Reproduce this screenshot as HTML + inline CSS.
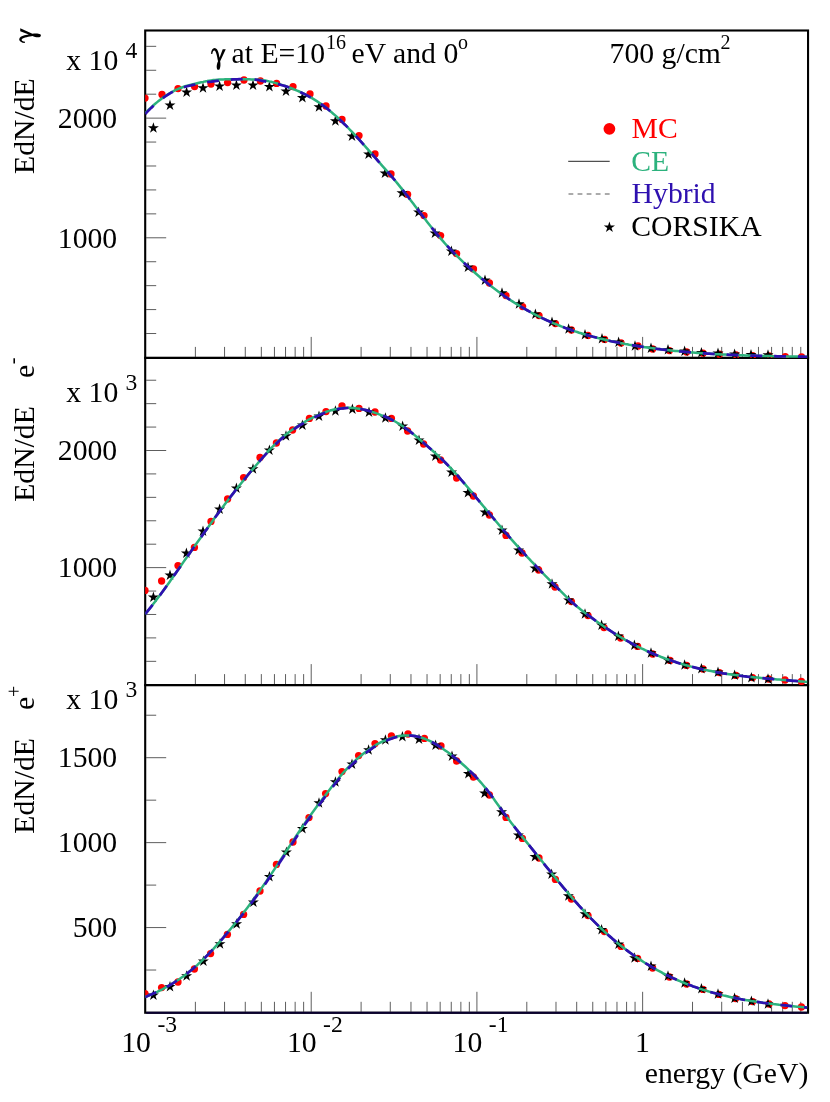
<!DOCTYPE html>
<html><head><meta charset="utf-8"><title>spectra</title>
<style>html,body{margin:0;padding:0;background:#fff}svg{display:block}</style></head><body>
<svg style="will-change:transform" width="830" height="1102" viewBox="0 0 830 1102">
<rect width="830" height="1102" fill="#fff"/>
<defs>
<clipPath id="c0"><rect x="145.2" y="30.5" width="662.8" height="327.4"/></clipPath>
<clipPath id="c1"><rect x="145.2" y="357.9" width="662.8" height="327.2"/></clipPath>
<clipPath id="c2"><rect x="145.2" y="685.1" width="662.8" height="327.6"/></clipPath>
</defs>
<rect x="145.20" y="30.50" width="662.85" height="327.40" fill="none" stroke="#000" stroke-width="2.1"/>
<rect x="145.20" y="357.90" width="662.85" height="327.20" fill="none" stroke="#000" stroke-width="2.1"/>
<rect x="145.20" y="685.10" width="662.85" height="327.65" fill="none" stroke="#000" stroke-width="2.1"/>
<line x1="146.20" x2="807.05" y1="1012.75" y2="1012.75" stroke="#0a0030" stroke-width="2.1"/>
<g stroke="#000" stroke-width="0.75" stroke-opacity="0.85"><line x1="146.2" x2="156.2" y1="333.52" y2="333.52"/><line x1="146.2" x2="156.2" y1="309.59" y2="309.59"/><line x1="146.2" x2="156.2" y1="285.65" y2="285.65"/><line x1="146.2" x2="156.2" y1="261.72" y2="261.72"/><line x1="146.2" x2="166.2" y1="237.79" y2="237.79"/><line x1="146.2" x2="156.2" y1="213.86" y2="213.86"/><line x1="146.2" x2="156.2" y1="189.93" y2="189.93"/><line x1="146.2" x2="156.2" y1="165.99" y2="165.99"/><line x1="146.2" x2="156.2" y1="142.06" y2="142.06"/><line x1="146.2" x2="166.2" y1="118.13" y2="118.13"/><line x1="146.2" x2="156.2" y1="94.20" y2="94.20"/><line x1="146.2" x2="156.2" y1="70.27" y2="70.27"/><line x1="146.2" x2="156.2" y1="46.33" y2="46.33"/><line x1="195.38" x2="195.38" y1="356.9" y2="346.9"/><line x1="224.56" x2="224.56" y1="356.9" y2="346.9"/><line x1="245.27" x2="245.27" y1="356.9" y2="346.9"/><line x1="261.33" x2="261.33" y1="356.9" y2="346.9"/><line x1="274.45" x2="274.45" y1="356.9" y2="346.9"/><line x1="285.54" x2="285.54" y1="356.9" y2="346.9"/><line x1="295.15" x2="295.15" y1="356.9" y2="346.9"/><line x1="303.63" x2="303.63" y1="356.9" y2="346.9"/><line x1="311.21" x2="311.21" y1="356.9" y2="336.9"/><line x1="361.10" x2="361.10" y1="356.9" y2="346.9"/><line x1="390.28" x2="390.28" y1="356.9" y2="346.9"/><line x1="410.98" x2="410.98" y1="356.9" y2="346.9"/><line x1="427.04" x2="427.04" y1="356.9" y2="346.9"/><line x1="440.16" x2="440.16" y1="356.9" y2="346.9"/><line x1="451.26" x2="451.26" y1="356.9" y2="346.9"/><line x1="460.87" x2="460.87" y1="356.9" y2="346.9"/><line x1="469.34" x2="469.34" y1="356.9" y2="346.9"/><line x1="476.92" x2="476.92" y1="356.9" y2="336.9"/><line x1="526.81" x2="526.81" y1="356.9" y2="346.9"/><line x1="555.99" x2="555.99" y1="356.9" y2="346.9"/><line x1="576.69" x2="576.69" y1="356.9" y2="346.9"/><line x1="592.75" x2="592.75" y1="356.9" y2="346.9"/><line x1="605.87" x2="605.87" y1="356.9" y2="346.9"/><line x1="616.97" x2="616.97" y1="356.9" y2="346.9"/><line x1="626.58" x2="626.58" y1="356.9" y2="346.9"/><line x1="635.05" x2="635.05" y1="356.9" y2="346.9"/><line x1="642.64" x2="642.64" y1="356.9" y2="336.9"/><line x1="692.52" x2="692.52" y1="356.9" y2="346.9"/><line x1="721.70" x2="721.70" y1="356.9" y2="346.9"/><line x1="742.41" x2="742.41" y1="356.9" y2="346.9"/><line x1="758.47" x2="758.47" y1="356.9" y2="346.9"/><line x1="771.59" x2="771.59" y1="356.9" y2="346.9"/><line x1="782.68" x2="782.68" y1="356.9" y2="346.9"/><line x1="792.29" x2="792.29" y1="356.9" y2="346.9"/><line x1="800.77" x2="800.77" y1="356.9" y2="346.9"/></g>
<g stroke="#000" stroke-width="0.75" stroke-opacity="0.85"><line x1="146.2" x2="156.2" y1="661.33" y2="661.33"/><line x1="146.2" x2="156.2" y1="637.90" y2="637.90"/><line x1="146.2" x2="156.2" y1="614.48" y2="614.48"/><line x1="146.2" x2="156.2" y1="591.05" y2="591.05"/><line x1="146.2" x2="166.2" y1="567.62" y2="567.62"/><line x1="146.2" x2="156.2" y1="544.20" y2="544.20"/><line x1="146.2" x2="156.2" y1="520.77" y2="520.77"/><line x1="146.2" x2="156.2" y1="497.35" y2="497.35"/><line x1="146.2" x2="156.2" y1="473.92" y2="473.92"/><line x1="146.2" x2="166.2" y1="450.50" y2="450.50"/><line x1="146.2" x2="156.2" y1="427.07" y2="427.07"/><line x1="146.2" x2="156.2" y1="403.65" y2="403.65"/><line x1="146.2" x2="156.2" y1="380.22" y2="380.22"/><line x1="195.38" x2="195.38" y1="684.1" y2="674.1"/><line x1="224.56" x2="224.56" y1="684.1" y2="674.1"/><line x1="245.27" x2="245.27" y1="684.1" y2="674.1"/><line x1="261.33" x2="261.33" y1="684.1" y2="674.1"/><line x1="274.45" x2="274.45" y1="684.1" y2="674.1"/><line x1="285.54" x2="285.54" y1="684.1" y2="674.1"/><line x1="295.15" x2="295.15" y1="684.1" y2="674.1"/><line x1="303.63" x2="303.63" y1="684.1" y2="674.1"/><line x1="311.21" x2="311.21" y1="684.1" y2="664.1"/><line x1="361.10" x2="361.10" y1="684.1" y2="674.1"/><line x1="390.28" x2="390.28" y1="684.1" y2="674.1"/><line x1="410.98" x2="410.98" y1="684.1" y2="674.1"/><line x1="427.04" x2="427.04" y1="684.1" y2="674.1"/><line x1="440.16" x2="440.16" y1="684.1" y2="674.1"/><line x1="451.26" x2="451.26" y1="684.1" y2="674.1"/><line x1="460.87" x2="460.87" y1="684.1" y2="674.1"/><line x1="469.34" x2="469.34" y1="684.1" y2="674.1"/><line x1="476.92" x2="476.92" y1="684.1" y2="664.1"/><line x1="526.81" x2="526.81" y1="684.1" y2="674.1"/><line x1="555.99" x2="555.99" y1="684.1" y2="674.1"/><line x1="576.69" x2="576.69" y1="684.1" y2="674.1"/><line x1="592.75" x2="592.75" y1="684.1" y2="674.1"/><line x1="605.87" x2="605.87" y1="684.1" y2="674.1"/><line x1="616.97" x2="616.97" y1="684.1" y2="674.1"/><line x1="626.58" x2="626.58" y1="684.1" y2="674.1"/><line x1="635.05" x2="635.05" y1="684.1" y2="674.1"/><line x1="642.64" x2="642.64" y1="684.1" y2="664.1"/><line x1="692.52" x2="692.52" y1="684.1" y2="674.1"/><line x1="721.70" x2="721.70" y1="684.1" y2="674.1"/><line x1="742.41" x2="742.41" y1="684.1" y2="674.1"/><line x1="758.47" x2="758.47" y1="684.1" y2="674.1"/><line x1="771.59" x2="771.59" y1="684.1" y2="674.1"/><line x1="782.68" x2="782.68" y1="684.1" y2="674.1"/><line x1="792.29" x2="792.29" y1="684.1" y2="674.1"/><line x1="800.77" x2="800.77" y1="684.1" y2="674.1"/></g>
<g stroke="#000" stroke-width="0.75" stroke-opacity="0.85"><line x1="146.2" x2="156.2" y1="970.03" y2="970.03"/><line x1="146.2" x2="166.2" y1="927.57" y2="927.57"/><line x1="146.2" x2="156.2" y1="885.10" y2="885.10"/><line x1="146.2" x2="166.2" y1="842.63" y2="842.63"/><line x1="146.2" x2="156.2" y1="800.16" y2="800.16"/><line x1="146.2" x2="166.2" y1="757.70" y2="757.70"/><line x1="146.2" x2="156.2" y1="715.23" y2="715.23"/><line x1="195.38" x2="195.38" y1="1011.8" y2="1001.8"/><line x1="224.56" x2="224.56" y1="1011.8" y2="1001.8"/><line x1="245.27" x2="245.27" y1="1011.8" y2="1001.8"/><line x1="261.33" x2="261.33" y1="1011.8" y2="1001.8"/><line x1="274.45" x2="274.45" y1="1011.8" y2="1001.8"/><line x1="285.54" x2="285.54" y1="1011.8" y2="1001.8"/><line x1="295.15" x2="295.15" y1="1011.8" y2="1001.8"/><line x1="303.63" x2="303.63" y1="1011.8" y2="1001.8"/><line x1="311.21" x2="311.21" y1="1011.8" y2="991.8"/><line x1="361.10" x2="361.10" y1="1011.8" y2="1001.8"/><line x1="390.28" x2="390.28" y1="1011.8" y2="1001.8"/><line x1="410.98" x2="410.98" y1="1011.8" y2="1001.8"/><line x1="427.04" x2="427.04" y1="1011.8" y2="1001.8"/><line x1="440.16" x2="440.16" y1="1011.8" y2="1001.8"/><line x1="451.26" x2="451.26" y1="1011.8" y2="1001.8"/><line x1="460.87" x2="460.87" y1="1011.8" y2="1001.8"/><line x1="469.34" x2="469.34" y1="1011.8" y2="1001.8"/><line x1="476.92" x2="476.92" y1="1011.8" y2="991.8"/><line x1="526.81" x2="526.81" y1="1011.8" y2="1001.8"/><line x1="555.99" x2="555.99" y1="1011.8" y2="1001.8"/><line x1="576.69" x2="576.69" y1="1011.8" y2="1001.8"/><line x1="592.75" x2="592.75" y1="1011.8" y2="1001.8"/><line x1="605.87" x2="605.87" y1="1011.8" y2="1001.8"/><line x1="616.97" x2="616.97" y1="1011.8" y2="1001.8"/><line x1="626.58" x2="626.58" y1="1011.8" y2="1001.8"/><line x1="635.05" x2="635.05" y1="1011.8" y2="1001.8"/><line x1="642.64" x2="642.64" y1="1011.8" y2="991.8"/><line x1="692.52" x2="692.52" y1="1011.8" y2="1001.8"/><line x1="721.70" x2="721.70" y1="1011.8" y2="1001.8"/><line x1="742.41" x2="742.41" y1="1011.8" y2="1001.8"/><line x1="758.47" x2="758.47" y1="1011.8" y2="1001.8"/><line x1="771.59" x2="771.59" y1="1011.8" y2="1001.8"/><line x1="782.68" x2="782.68" y1="1011.8" y2="1001.8"/><line x1="792.29" x2="792.29" y1="1011.8" y2="1001.8"/><line x1="800.77" x2="800.77" y1="1011.8" y2="1001.8"/></g>
<g clip-path="url(#c0)">
<g fill="#ff0000"><circle cx="145.0" cy="98.1" r="3.65"/><circle cx="162.0" cy="94.4" r="3.65"/><circle cx="178.0" cy="88.6" r="3.65"/><circle cx="194.6" cy="86.6" r="3.65"/><circle cx="211.0" cy="84.0" r="3.65"/><circle cx="227.6" cy="82.6" r="3.65"/><circle cx="244.0" cy="80.0" r="3.65"/><circle cx="260.4" cy="81.0" r="3.65"/><circle cx="276.6" cy="83.4" r="3.65"/><circle cx="293.0" cy="86.6" r="3.65"/><circle cx="310.0" cy="94.0" r="3.65"/><circle cx="326.0" cy="106.0" r="3.65"/><circle cx="342.0" cy="119.4" r="3.65"/><circle cx="359.0" cy="135.6" r="3.65"/><circle cx="375.0" cy="154.0" r="3.65"/><circle cx="391.0" cy="174.0" r="3.65"/><circle cx="407.6" cy="194.4" r="3.65"/><circle cx="424.0" cy="215.6" r="3.65"/><circle cx="440.6" cy="235.6" r="3.65"/><circle cx="456.6" cy="253.6" r="3.65"/><circle cx="473.5" cy="269.0" r="3.65"/><circle cx="489.4" cy="283.0" r="3.65"/><circle cx="506.0" cy="295.6" r="3.65"/><circle cx="522.6" cy="306.6" r="3.65"/><circle cx="539.0" cy="315.6" r="3.65"/><circle cx="555.4" cy="323.6" r="3.65"/><circle cx="571.4" cy="330.0" r="3.65"/><circle cx="588.0" cy="335.4" r="3.65"/><circle cx="604.6" cy="339.4" r="3.65"/><circle cx="621.0" cy="343.0" r="3.65"/><circle cx="638.0" cy="346.0" r="3.65"/><circle cx="652.6" cy="349.0" r="3.65"/><circle cx="669.4" cy="350.6" r="3.65"/><circle cx="686.6" cy="352.0" r="3.65"/><circle cx="703.0" cy="353.2" r="3.65"/><circle cx="719.4" cy="354.2" r="3.65"/><circle cx="736.0" cy="355.0" r="3.65"/><circle cx="752.6" cy="355.6" r="3.65"/><circle cx="769.0" cy="356.0" r="3.65"/><circle cx="785.3" cy="356.6" r="3.65"/><circle cx="801.6" cy="357.0" r="3.65"/></g>
<g fill="#000"><polygon points="153.4,122.2 154.7,126.2 158.9,126.2 155.5,128.7 156.8,132.7 153.4,130.2 150.0,132.7 151.3,128.7 147.9,126.2 152.1,126.2"/><polygon points="170.0,99.6 171.3,103.6 175.5,103.6 172.1,106.1 173.4,110.1 170.0,107.6 166.6,110.1 167.9,106.1 164.5,103.6 168.7,103.6"/><polygon points="186.6,86.6 187.9,90.6 192.1,90.6 188.7,93.1 190.0,97.1 186.6,94.6 183.2,97.1 184.5,93.1 181.1,90.6 185.3,90.6"/><polygon points="203.0,82.2 204.3,86.2 208.5,86.2 205.1,88.7 206.4,92.7 203.0,90.2 199.6,92.7 200.9,88.7 197.5,86.2 201.7,86.2"/><polygon points="219.6,80.6 220.9,84.6 225.1,84.6 221.7,87.1 223.0,91.1 219.6,88.6 216.2,91.1 217.5,87.1 214.1,84.6 218.3,84.6"/><polygon points="236.4,79.6 237.7,83.6 241.9,83.6 238.5,86.1 239.8,90.1 236.4,87.6 233.0,90.1 234.3,86.1 230.9,83.6 235.1,83.6"/><polygon points="253.0,79.6 254.3,83.6 258.5,83.6 255.1,86.1 256.4,90.1 253.0,87.6 249.6,90.1 250.9,86.1 247.5,83.6 251.7,83.6"/><polygon points="269.4,81.0 270.7,85.0 274.9,85.0 271.5,87.5 272.8,91.5 269.4,89.0 266.0,91.5 267.3,87.5 263.9,85.0 268.1,85.0"/><polygon points="286.0,85.6 287.3,89.6 291.5,89.6 288.1,92.1 289.4,96.1 286.0,93.6 282.6,96.1 283.9,92.1 280.5,89.6 284.7,89.6"/><polygon points="302.4,92.0 303.7,96.0 307.9,96.0 304.5,98.5 305.8,102.5 302.4,100.0 299.0,102.5 300.3,98.5 296.9,96.0 301.1,96.0"/><polygon points="319.0,101.2 320.3,105.2 324.5,105.2 321.1,107.7 322.4,111.7 319.0,109.2 315.6,111.7 316.9,107.7 313.5,105.2 317.7,105.2"/><polygon points="335.4,115.2 336.7,119.2 340.9,119.2 337.5,121.7 338.8,125.7 335.4,123.2 332.0,125.7 333.3,121.7 329.9,119.2 334.1,119.2"/><polygon points="352.0,130.6 353.3,134.6 357.5,134.6 354.1,137.1 355.4,141.1 352.0,138.6 348.6,141.1 349.9,137.1 346.5,134.6 350.7,134.6"/><polygon points="368.6,148.6 369.9,152.6 374.1,152.6 370.7,155.1 372.0,159.1 368.6,156.6 365.2,159.1 366.5,155.1 363.1,152.6 367.3,152.6"/><polygon points="385.0,167.6 386.3,171.6 390.5,171.6 387.1,174.1 388.4,178.1 385.0,175.6 381.6,178.1 382.9,174.1 379.5,171.6 383.7,171.6"/><polygon points="402.0,187.2 403.3,191.2 407.5,191.2 404.1,193.7 405.4,197.7 402.0,195.2 398.6,197.7 399.9,193.7 396.5,191.2 400.7,191.2"/><polygon points="418.6,206.6 419.9,210.6 424.1,210.6 420.7,213.1 422.0,217.1 418.6,214.6 415.2,217.1 416.5,213.1 413.1,210.6 417.3,210.6"/><polygon points="435.0,227.6 436.3,231.6 440.5,231.6 437.1,234.1 438.4,238.1 435.0,235.6 431.6,238.1 432.9,234.1 429.5,231.6 433.7,231.6"/><polygon points="451.4,245.6 452.7,249.6 456.9,249.6 453.5,252.1 454.8,256.1 451.4,253.6 448.0,256.1 449.3,252.1 445.9,249.6 450.1,249.6"/><polygon points="468.0,261.6 469.3,265.6 473.5,265.6 470.1,268.1 471.4,272.1 468.0,269.6 464.6,272.1 465.9,268.1 462.5,265.6 466.7,265.6"/><polygon points="485.0,274.6 486.3,278.6 490.5,278.6 487.1,281.1 488.4,285.1 485.0,282.6 481.6,285.1 482.9,281.1 479.5,278.6 483.7,278.6"/><polygon points="502.0,287.2 503.3,291.2 507.5,291.2 504.1,293.7 505.4,297.7 502.0,295.2 498.6,297.7 499.9,293.7 496.5,291.2 500.7,291.2"/><polygon points="519.0,298.2 520.3,302.2 524.5,302.2 521.1,304.7 522.4,308.7 519.0,306.2 515.6,308.7 516.9,304.7 513.5,302.2 517.7,302.2"/><polygon points="535.4,308.6 536.7,312.6 540.9,312.6 537.5,315.1 538.8,319.1 535.4,316.6 532.0,319.1 533.3,315.1 529.9,312.6 534.1,312.6"/><polygon points="552.0,316.6 553.3,320.6 557.5,320.6 554.1,323.1 555.4,327.1 552.0,324.6 548.6,327.1 549.9,323.1 546.5,320.6 550.7,320.6"/><polygon points="568.6,323.2 569.9,327.2 574.1,327.2 570.7,329.7 572.0,333.7 568.6,331.2 565.2,333.7 566.5,329.7 563.1,327.2 567.3,327.2"/><polygon points="585.0,329.0 586.3,333.0 590.5,333.0 587.1,335.5 588.4,339.5 585.0,337.0 581.6,339.5 582.9,335.5 579.5,333.0 583.7,333.0"/><polygon points="602.0,333.0 603.3,337.0 607.5,337.0 604.1,339.5 605.4,343.5 602.0,341.0 598.6,343.5 599.9,339.5 596.5,337.0 600.7,337.0"/><polygon points="618.6,336.6 619.9,340.6 624.1,340.6 620.7,343.1 622.0,347.1 618.6,344.6 615.2,347.1 616.5,343.1 613.1,340.6 617.3,340.6"/><polygon points="635.0,340.2 636.3,344.2 640.5,344.2 637.1,346.7 638.4,350.7 635.0,348.2 631.6,350.7 632.9,346.7 629.5,344.2 633.7,344.2"/><polygon points="651.0,342.6 652.3,346.6 656.5,346.6 653.1,349.1 654.4,353.1 651.0,350.6 647.6,353.1 648.9,349.1 645.5,346.6 649.7,346.6"/><polygon points="668.0,344.0 669.3,348.0 673.5,348.0 670.1,350.5 671.4,354.5 668.0,352.0 664.6,354.5 665.9,350.5 662.5,348.0 666.7,348.0"/><polygon points="684.6,345.6 685.9,349.6 690.1,349.6 686.7,352.1 688.0,356.1 684.6,353.6 681.2,356.1 682.5,352.1 679.1,349.6 683.3,349.6"/><polygon points="701.4,347.0 702.7,351.0 706.9,351.0 703.5,353.5 704.8,357.5 701.4,355.0 698.0,357.5 699.3,353.5 695.9,351.0 700.1,351.0"/><polygon points="718.0,347.6 719.3,351.6 723.5,351.6 720.1,354.1 721.4,358.1 718.0,355.6 714.6,358.1 715.9,354.1 712.5,351.6 716.7,351.6"/><polygon points="734.6,348.6 735.9,352.6 740.1,352.6 736.7,355.1 738.0,359.1 734.6,356.6 731.2,359.1 732.5,355.1 729.1,352.6 733.3,352.6"/><polygon points="751.0,349.0 752.3,353.0 756.5,353.0 753.1,355.5 754.4,359.5 751.0,357.0 747.6,359.5 748.9,355.5 745.5,353.0 749.7,353.0"/><polygon points="768.0,349.2 769.3,353.2 773.5,353.2 770.1,355.7 771.4,359.7 768.0,357.2 764.6,359.7 765.9,355.7 762.5,353.2 766.7,353.2"/></g>
<path d="M145.2,113.1 L147.2,111.1 L149.2,109.2 L151.2,107.3 L153.2,105.5 L155.2,103.8 L157.2,102.1 L159.2,100.5 L161.2,98.9 L163.2,97.5 L165.2,96.1 L167.2,94.8 L169.2,93.5 L171.2,92.3 L173.2,91.3 L175.2,90.2 L177.2,89.3 L179.2,88.5 L181.2,87.7 L183.2,87.0 L185.2,86.3 L187.2,85.7 L189.2,85.2 L191.2,84.7 L193.2,84.2 L195.2,83.7 L197.2,83.2 L199.2,82.7 L201.2,82.3 L203.2,81.9 L205.2,81.4 L207.2,81.1 L209.2,80.7 L211.2,80.4 L213.2,80.1 L215.2,79.9 L217.2,79.7 L219.2,79.5 L221.2,79.4 L223.2,79.4 L225.2,79.3 L227.2,79.3 L229.2,79.2 L231.2,79.2 L233.2,79.2 L235.2,79.2 L237.2,79.2 L239.2,79.2 L241.2,79.2 L243.2,79.2 L245.2,79.2 L247.2,79.3 L249.2,79.3 L251.2,79.4 L253.2,79.4 L255.2,79.5 L257.2,79.7 L259.2,79.8 L261.2,80.0 L263.2,80.2 L265.2,80.5 L267.2,80.9 L269.2,81.4 L271.2,81.8 L273.2,82.4 L275.2,82.9 L277.2,83.5 L279.2,84.1 L281.2,84.7 L283.2,85.4 L285.2,86.0 L287.2,86.7 L289.2,87.5 L291.2,88.2 L293.2,89.0 L295.2,89.8 L297.2,90.7 L299.2,91.5 L301.2,92.5 L303.2,93.4 L305.2,94.4 L307.2,95.5 L309.2,96.6 L311.2,97.7 L313.2,98.9 L315.2,100.1 L317.2,101.4 L319.2,102.7 L321.2,104.1 L323.2,105.6 L325.2,107.1 L327.2,108.6 L329.2,110.3 L331.2,111.9 L333.2,113.7 L335.2,115.4 L337.2,117.2 L339.2,119.1 L341.2,121.0 L343.2,123.0 L345.2,124.9 L347.2,126.9 L349.2,129.0 L351.2,131.1 L353.2,133.2 L355.2,135.3 L357.2,137.5 L359.2,139.7 L361.2,141.9 L363.2,144.1 L365.2,146.3 L367.2,148.6 L369.2,150.8 L371.2,153.1 L373.2,155.4 L375.2,157.7 L377.2,160.0 L379.2,162.3 L381.2,164.6 L383.2,166.8 L385.2,169.1 L387.2,171.4 L389.2,173.7 L391.2,176.0 L393.2,178.3 L395.2,180.7 L397.2,183.1 L399.2,185.6 L401.2,188.1 L403.2,190.6 L405.2,193.2 L407.2,195.7 L409.2,198.3 L411.2,200.9 L413.2,203.6 L415.2,206.2 L417.2,208.8 L419.2,211.5 L421.2,214.1 L423.2,216.7 L425.2,219.3 L427.2,221.9 L429.2,224.5 L431.2,227.0 L433.2,229.5 L435.2,232.0 L437.2,234.4 L439.2,236.8 L441.2,239.1 L443.2,241.4 L445.2,243.7 L447.2,245.9 L449.2,248.0 L451.2,250.1 L453.2,252.2 L455.2,254.2 L457.2,256.2 L459.2,258.2 L461.2,260.1 L463.2,262.1 L465.2,263.9 L467.2,265.8 L469.2,267.6 L471.2,269.5 L473.2,271.2 L475.2,273.0 L477.2,274.8 L479.2,276.5 L481.2,278.2 L483.2,279.8 L485.2,281.5 L487.2,283.1 L489.2,284.7 L491.2,286.3 L493.2,287.8 L495.2,289.3 L497.2,290.8 L499.2,292.3 L501.2,293.7 L503.2,295.2 L505.2,296.6 L507.2,297.9 L509.2,299.3 L511.2,300.6 L513.2,301.9 L515.2,303.2 L517.2,304.4 L519.2,305.6 L521.2,306.8 L523.2,308.0 L525.2,309.2 L527.2,310.3 L529.2,311.4 L531.2,312.5 L533.2,313.6 L535.2,314.6 L537.2,315.6 L539.2,316.6 L541.2,317.6 L543.2,318.6 L545.2,319.5 L547.2,320.4 L549.2,321.3 L551.2,322.2 L553.2,323.1 L555.2,323.9 L557.2,324.7 L559.2,325.5 L561.2,326.3 L563.2,327.1 L565.2,327.9 L567.2,328.6 L569.2,329.3 L571.2,330.0 L573.2,330.7 L575.2,331.4 L577.2,332.0 L579.2,332.7 L581.2,333.3 L583.2,333.9 L585.2,334.5 L587.2,335.1 L589.2,335.7 L591.2,336.2 L593.2,336.8 L595.2,337.3 L597.2,337.8 L599.2,338.4 L601.2,338.8 L603.2,339.3 L605.2,339.8 L607.2,340.3 L609.2,340.7 L611.2,341.2 L613.2,341.6 L615.2,342.0 L617.2,342.4 L619.2,342.8 L621.2,343.2 L623.2,343.6 L625.2,344.0 L627.2,344.3 L629.2,344.7 L631.2,345.0 L633.2,345.4 L635.2,345.7 L637.2,346.0 L639.2,346.3 L641.2,346.6 L643.2,346.9 L645.2,347.2 L647.2,347.5 L649.2,347.8 L651.2,348.1 L653.2,348.3 L655.2,348.6 L657.2,348.9 L659.2,349.1 L661.2,349.4 L663.2,349.6 L665.2,349.8 L667.2,350.1 L669.2,350.3 L671.2,350.5 L673.2,350.7 L675.2,350.9 L677.2,351.1 L679.2,351.3 L681.2,351.5 L683.2,351.7 L685.2,351.9 L687.2,352.0 L689.2,352.2 L691.2,352.4 L693.2,352.5 L695.2,352.7 L697.2,352.9 L699.2,353.0 L701.2,353.2 L703.2,353.3 L705.2,353.4 L707.2,353.6 L709.2,353.7 L711.2,353.8 L713.2,353.9 L715.2,354.1 L717.2,354.2 L719.2,354.3 L721.2,354.4 L723.2,354.5 L725.2,354.6 L727.2,354.7 L729.2,354.8 L731.2,354.9 L733.2,354.9 L735.2,355.0 L737.2,355.1 L739.2,355.2 L741.2,355.3 L743.2,355.3 L745.2,355.4 L747.2,355.5 L749.2,355.5 L751.2,355.6 L753.2,355.7 L755.2,355.7 L757.2,355.8 L759.2,355.8 L761.2,355.9 L763.2,355.9 L765.2,356.0 L767.2,356.0 L769.2,356.1 L771.2,356.1 L773.2,356.2 L775.2,356.2 L777.2,356.3 L779.2,356.3 L781.2,356.3 L783.2,356.4 L785.2,356.4 L787.2,356.5 L789.2,356.5 L791.2,356.5 L793.2,356.6 L795.2,356.6 L797.2,356.6 L799.2,356.7 L801.2,356.7 L803.2,356.7 L805.2,356.8 L807.2,356.8" fill="none" stroke="#2cb27d" stroke-width="2.5"/>
<path d="M145.2,114.0 L147.2,111.9 L149.2,109.9 L151.2,107.9 L153.2,106.1 L155.2,104.3 L157.2,102.5 L159.2,100.9 L161.2,99.3 L163.2,97.8 L165.2,96.4 L167.2,95.1 L169.2,93.8 L171.2,92.6 L173.2,91.6 L175.2,90.5 L177.2,89.6 L179.2,88.8 L181.2,88.1 L183.2,87.4 L185.2,86.8 L187.2,86.3 L189.2,85.8 L191.2,85.4 L193.2,84.9 L195.2,84.5 L197.2,84.1 L199.2,83.7 L201.2,83.3 L203.2,82.9 L205.2,82.5 L207.2,82.2 L209.2,81.8 L211.2,81.6 L213.2,81.3 L215.2,81.1 L217.2,80.9 L219.2,80.7 L221.2,80.4 L223.2,80.2 L225.2,80.0 L227.2,79.8 L229.2,79.7 L231.2,79.6 L233.2,79.4 L235.2,79.3 L237.2,79.3 L239.2,79.2 L241.2,79.2 L243.2,79.2 L245.2,79.2 L247.2,79.3 L249.2,79.3 L251.2,79.4 L253.2,79.4 L255.2,79.6 L257.2,79.8 L259.2,80.2 L261.2,80.6 L263.2,81.1 L265.2,81.4 L267.2,81.8 L269.2,82.1 L271.2,82.5 L273.2,83.0 L275.2,83.4 L277.2,83.9 L279.2,84.4 L281.2,85.0 L283.2,85.5 L285.2,86.1 L287.2,86.8 L289.2,87.5 L291.2,88.2 L293.2,89.0 L295.2,89.8 L297.2,90.7 L299.2,91.5 L301.2,92.5 L303.2,93.4 L305.2,94.4 L307.2,95.5 L309.2,96.6 L311.2,97.7 L313.2,98.9 L315.2,100.1 L317.2,101.4 L319.2,102.7 L321.2,104.1 L323.2,105.6 L325.2,107.1 L327.2,108.6 L329.2,110.3 L331.2,111.9 L333.2,113.7 L335.2,115.4 L337.2,117.2 L339.2,119.1 L341.2,121.0 L343.2,123.0 L345.2,124.9 L347.2,126.9 L349.2,129.0 L351.2,131.1 L353.2,133.2 L355.2,135.3 L357.2,137.5 L359.2,139.7 L361.2,141.9 L363.2,144.1 L365.2,146.3 L367.2,148.6 L369.2,150.8 L371.2,153.1 L373.2,155.4 L375.2,157.7 L377.2,160.0 L379.2,162.3 L381.2,164.6 L383.2,166.8 L385.2,169.1 L387.2,171.4 L389.2,173.7 L391.2,176.0 L393.2,178.3 L395.2,180.7 L397.2,183.1 L399.2,185.6 L401.2,188.1 L403.2,190.6 L405.2,193.2 L407.2,195.7 L409.2,198.3 L411.2,200.9 L413.2,203.6 L415.2,206.2 L417.2,208.8 L419.2,211.5 L421.2,214.1 L423.2,216.7 L425.2,219.3 L427.2,221.9 L429.2,224.5 L431.2,227.0 L433.2,229.5 L435.2,232.0 L437.2,234.4 L439.2,236.8 L441.2,239.1 L443.2,241.4 L445.2,243.7 L447.2,245.9 L449.2,248.0 L451.2,250.1 L453.2,252.2 L455.2,254.2 L457.2,256.2 L459.2,258.2 L461.2,260.1 L463.2,262.1 L465.2,263.9 L467.2,265.8 L469.2,267.6 L471.2,269.5 L473.2,271.2 L475.2,273.0 L477.2,274.8 L479.2,276.5 L481.2,278.2 L483.2,279.8 L485.2,281.5 L487.2,283.1 L489.2,284.7 L491.2,286.3 L493.2,287.8 L495.2,289.3 L497.2,290.8 L499.2,292.3 L501.2,293.7 L503.2,295.2 L505.2,296.6 L507.2,297.9 L509.2,299.3 L511.2,300.6 L513.2,301.9 L515.2,303.2 L517.2,304.4 L519.2,305.6 L521.2,306.8 L523.2,308.0 L525.2,309.2 L527.2,310.3 L529.2,311.4 L531.2,312.5 L533.2,313.6 L535.2,314.6 L537.2,315.6 L539.2,316.6 L541.2,317.6 L543.2,318.6 L545.2,319.5 L547.2,320.4 L549.2,321.3 L551.2,322.2 L553.2,323.1 L555.2,323.9 L557.2,324.7 L559.2,325.5 L561.2,326.3 L563.2,327.1 L565.2,327.9 L567.2,328.6 L569.2,329.3 L571.2,330.0 L573.2,330.7 L575.2,331.4 L577.2,332.0 L579.2,332.7 L581.2,333.3 L583.2,333.9 L585.2,334.5 L587.2,335.1 L589.2,335.7 L591.2,336.2 L593.2,336.8 L595.2,337.3 L597.2,337.8 L599.2,338.4 L601.2,338.8 L603.2,339.3 L605.2,339.8 L607.2,340.3 L609.2,340.7 L611.2,341.2 L613.2,341.6 L615.2,342.0 L617.2,342.4 L619.2,342.8 L621.2,343.2 L623.2,343.6 L625.2,344.0 L627.2,344.3 L629.2,344.7 L631.2,345.0 L633.2,345.4 L635.2,345.7 L637.2,346.0 L639.2,346.3 L641.2,346.6 L643.2,346.9 L645.2,347.2 L647.2,347.5 L649.2,347.8 L651.2,348.1 L653.2,348.3 L655.2,348.6 L657.2,348.9 L659.2,349.1 L661.2,349.4 L663.2,349.6 L665.2,349.8 L667.2,350.1 L669.2,350.3 L671.2,350.5 L673.2,350.7 L675.2,350.9 L677.2,351.1 L679.2,351.3 L681.2,351.5 L683.2,351.7 L685.2,351.9 L687.2,352.0 L689.2,352.2 L691.2,352.4 L693.2,352.5 L695.2,352.7 L697.2,352.9 L699.2,353.0 L701.2,353.2 L703.2,353.3 L705.2,353.4 L707.2,353.6 L709.2,353.7 L711.2,353.8 L713.2,353.9 L715.2,354.1 L717.2,354.2 L719.2,354.3 L721.2,354.4 L723.2,354.5 L725.2,354.6 L727.2,354.7 L729.2,354.8 L731.2,354.9 L733.2,354.9 L735.2,355.0 L737.2,355.1 L739.2,355.2 L741.2,355.3 L743.2,355.3 L745.2,355.4 L747.2,355.5 L749.2,355.5 L751.2,355.6 L753.2,355.7 L755.2,355.7 L757.2,355.8 L759.2,355.8 L761.2,355.9 L763.2,355.9 L765.2,356.0 L767.2,356.0 L769.2,356.1 L771.2,356.1 L773.2,356.2 L775.2,356.2 L777.2,356.3 L779.2,356.3 L781.2,356.3 L783.2,356.4 L785.2,356.4 L787.2,356.5 L789.2,356.5 L791.2,356.5 L793.2,356.6 L795.2,356.6 L797.2,356.6 L799.2,356.7 L801.2,356.7 L803.2,356.7 L805.2,356.8 L807.2,356.8" fill="none" stroke="#2e10b0" stroke-width="2.7" stroke-dasharray="11.9 11.9"/>
</g>
<g clip-path="url(#c1)">
<g fill="#ff0000"><circle cx="145.0" cy="590.4" r="3.65"/><circle cx="161.6" cy="581.0" r="3.65"/><circle cx="178.0" cy="565.6" r="3.65"/><circle cx="194.4" cy="547.4" r="3.65"/><circle cx="211.0" cy="521.4" r="3.65"/><circle cx="227.6" cy="499.0" r="3.65"/><circle cx="243.6" cy="477.6" r="3.65"/><circle cx="260.0" cy="457.4" r="3.65"/><circle cx="276.4" cy="443.0" r="3.65"/><circle cx="292.6" cy="430.0" r="3.65"/><circle cx="309.4" cy="418.4" r="3.65"/><circle cx="326.0" cy="411.6" r="3.65"/><circle cx="342.0" cy="406.0" r="3.65"/><circle cx="359.0" cy="408.4" r="3.65"/><circle cx="375.0" cy="412.0" r="3.65"/><circle cx="391.4" cy="418.4" r="3.65"/><circle cx="407.6" cy="431.0" r="3.65"/><circle cx="423.6" cy="444.0" r="3.65"/><circle cx="440.6" cy="460.0" r="3.65"/><circle cx="456.6" cy="478.0" r="3.65"/><circle cx="473.4" cy="496.0" r="3.65"/><circle cx="489.4" cy="515.0" r="3.65"/><circle cx="506.0" cy="535.4" r="3.65"/><circle cx="522.0" cy="553.0" r="3.65"/><circle cx="538.6" cy="570.0" r="3.65"/><circle cx="555.0" cy="587.0" r="3.65"/><circle cx="571.4" cy="601.6" r="3.65"/><circle cx="588.0" cy="615.6" r="3.65"/><circle cx="604.0" cy="627.6" r="3.65"/><circle cx="620.6" cy="638.0" r="3.65"/><circle cx="637.6" cy="646.4" r="3.65"/><circle cx="652.6" cy="654.0" r="3.65"/><circle cx="670.0" cy="660.4" r="3.65"/><circle cx="686.6" cy="665.4" r="3.65"/><circle cx="703.0" cy="669.0" r="3.65"/><circle cx="719.4" cy="672.6" r="3.65"/><circle cx="736.0" cy="675.4" r="3.65"/><circle cx="752.6" cy="677.6" r="3.65"/><circle cx="768.6" cy="679.0" r="3.65"/><circle cx="785.0" cy="680.0" r="3.65"/><circle cx="801.4" cy="681.4" r="3.65"/></g>
<g fill="#000"><polygon points="153.4,591.6 154.7,595.6 158.9,595.6 155.5,598.1 156.8,602.1 153.4,599.6 150.0,602.1 151.3,598.1 147.9,595.6 152.1,595.6"/><polygon points="170.0,569.6 171.3,573.6 175.5,573.6 172.1,576.1 173.4,580.1 170.0,577.6 166.6,580.1 167.9,576.1 164.5,573.6 168.7,573.6"/><polygon points="186.4,547.6 187.7,551.6 191.9,551.6 188.5,554.1 189.8,558.1 186.4,555.6 183.0,558.1 184.3,554.1 180.9,551.6 185.1,551.6"/><polygon points="203.0,525.6 204.3,529.6 208.5,529.6 205.1,532.1 206.4,536.1 203.0,533.6 199.6,536.1 200.9,532.1 197.5,529.6 201.7,529.6"/><polygon points="219.6,503.6 220.9,507.6 225.1,507.6 221.7,510.1 223.0,514.1 219.6,511.6 216.2,514.1 217.5,510.1 214.1,507.6 218.3,507.6"/><polygon points="236.4,482.6 237.7,486.6 241.9,486.6 238.5,489.1 239.8,493.1 236.4,490.6 233.0,493.1 234.3,489.1 230.9,486.6 235.1,486.6"/><polygon points="253.0,463.2 254.3,467.2 258.5,467.2 255.1,469.7 256.4,473.7 253.0,471.2 249.6,473.7 250.9,469.7 247.5,467.2 251.7,467.2"/><polygon points="269.4,444.6 270.7,448.6 274.9,448.6 271.5,451.1 272.8,455.1 269.4,452.6 266.0,455.1 267.3,451.1 263.9,448.6 268.1,448.6"/><polygon points="286.0,430.2 287.3,434.2 291.5,434.2 288.1,436.7 289.4,440.7 286.0,438.2 282.6,440.7 283.9,436.7 280.5,434.2 284.7,434.2"/><polygon points="302.4,419.6 303.7,423.6 307.9,423.6 304.5,426.1 305.8,430.1 302.4,427.6 299.0,430.1 300.3,426.1 296.9,423.6 301.1,423.6"/><polygon points="319.0,410.6 320.3,414.6 324.5,414.6 321.1,417.1 322.4,421.1 319.0,418.6 315.6,421.1 316.9,417.1 313.5,414.6 317.7,414.6"/><polygon points="335.4,405.2 336.7,409.2 340.9,409.2 337.5,411.7 338.8,415.7 335.4,413.2 332.0,415.7 333.3,411.7 329.9,409.2 334.1,409.2"/><polygon points="352.4,403.6 353.7,407.6 357.9,407.6 354.5,410.1 355.8,414.1 352.4,411.6 349.0,414.1 350.3,410.1 346.9,407.6 351.1,407.6"/><polygon points="369.0,406.6 370.3,410.6 374.5,410.6 371.1,413.1 372.4,417.1 369.0,414.6 365.6,417.1 366.9,413.1 363.5,410.6 367.7,410.6"/><polygon points="385.4,412.2 386.7,416.2 390.9,416.2 387.5,418.7 388.8,422.7 385.4,420.2 382.0,422.7 383.3,418.7 379.9,416.2 384.1,416.2"/><polygon points="402.6,420.6 403.9,424.6 408.1,424.6 404.7,427.1 406.0,431.1 402.6,428.6 399.2,431.1 400.5,427.1 397.1,424.6 401.3,424.6"/><polygon points="419.0,434.6 420.3,438.6 424.5,438.6 421.1,441.1 422.4,445.1 419.0,442.6 415.6,445.1 416.9,441.1 413.5,438.6 417.7,438.6"/><polygon points="435.4,450.6 436.7,454.6 440.9,454.6 437.5,457.1 438.8,461.1 435.4,458.6 432.0,461.1 433.3,457.1 429.9,454.6 434.1,454.6"/><polygon points="451.6,466.6 452.9,470.6 457.1,470.6 453.7,473.1 455.0,477.1 451.6,474.6 448.2,477.1 449.5,473.1 446.1,470.6 450.3,470.6"/><polygon points="468.0,487.0 469.3,491.0 473.5,491.0 470.1,493.5 471.4,497.5 468.0,495.0 464.6,497.5 465.9,493.5 462.5,491.0 466.7,491.0"/><polygon points="485.0,506.6 486.3,510.6 490.5,510.6 487.1,513.1 488.4,517.1 485.0,514.6 481.6,517.1 482.9,513.1 479.5,510.6 483.7,510.6"/><polygon points="502.0,524.6 503.3,528.6 507.5,528.6 504.1,531.1 505.4,535.1 502.0,532.6 498.6,535.1 499.9,531.1 496.5,528.6 500.7,528.6"/><polygon points="518.6,544.6 519.9,548.6 524.1,548.6 520.7,551.1 522.0,555.1 518.6,552.6 515.2,555.1 516.5,551.1 513.1,548.6 517.3,548.6"/><polygon points="535.0,562.6 536.3,566.6 540.5,566.6 537.1,569.1 538.4,573.1 535.0,570.6 531.6,573.1 532.9,569.1 529.5,566.6 533.7,566.6"/><polygon points="552.0,578.2 553.3,582.2 557.5,582.2 554.1,584.7 555.4,588.7 552.0,586.2 548.6,588.7 549.9,584.7 546.5,582.2 550.7,582.2"/><polygon points="568.6,594.6 569.9,598.6 574.1,598.6 570.7,601.1 572.0,605.1 568.6,602.6 565.2,605.1 566.5,601.1 563.1,598.6 567.3,598.6"/><polygon points="585.0,608.2 586.3,612.2 590.5,612.2 587.1,614.7 588.4,618.7 585.0,616.2 581.6,618.7 582.9,614.7 579.5,612.2 583.7,612.2"/><polygon points="601.6,619.6 602.9,623.6 607.1,623.6 603.7,626.1 605.0,630.1 601.6,627.6 598.2,630.1 599.5,626.1 596.1,623.6 600.3,623.6"/><polygon points="618.4,630.6 619.7,634.6 623.9,634.6 620.5,637.1 621.8,641.1 618.4,638.6 615.0,641.1 616.3,637.1 612.9,634.6 617.1,634.6"/><polygon points="634.4,639.6 635.7,643.6 639.9,643.6 636.5,646.1 637.8,650.1 634.4,647.6 631.0,650.1 632.3,646.1 628.9,643.6 633.1,643.6"/><polygon points="651.0,647.2 652.3,651.2 656.5,651.2 653.1,653.7 654.4,657.7 651.0,655.2 647.6,657.7 648.9,653.7 645.5,651.2 649.7,651.2"/><polygon points="668.0,654.6 669.3,658.6 673.5,658.6 670.1,661.1 671.4,665.1 668.0,662.6 664.6,665.1 665.9,661.1 662.5,658.6 666.7,658.6"/><polygon points="684.6,659.2 685.9,663.2 690.1,663.2 686.7,665.7 688.0,669.7 684.6,667.2 681.2,669.7 682.5,665.7 679.1,663.2 683.3,663.2"/><polygon points="701.4,663.0 702.7,667.0 706.9,667.0 703.5,669.5 704.8,673.5 701.4,671.0 698.0,673.5 699.3,669.5 695.9,667.0 700.1,667.0"/><polygon points="718.0,666.6 719.3,670.6 723.5,670.6 720.1,673.1 721.4,677.1 718.0,674.6 714.6,677.1 715.9,673.1 712.5,670.6 716.7,670.6"/><polygon points="734.6,669.6 735.9,673.6 740.1,673.6 736.7,676.1 738.0,680.1 734.6,677.6 731.2,680.1 732.5,676.1 729.1,673.6 733.3,673.6"/><polygon points="751.4,672.0 752.7,676.0 756.9,676.0 753.5,678.5 754.8,682.5 751.4,680.0 748.0,682.5 749.3,678.5 745.9,676.0 750.1,676.0"/><polygon points="768.0,673.2 769.3,677.2 773.5,677.2 770.1,679.7 771.4,683.7 768.0,681.2 764.6,683.7 765.9,679.7 762.5,677.2 766.7,677.2"/></g>
<path d="M145.2,614.2 L147.2,611.7 L149.2,609.2 L151.2,606.7 L153.2,604.1 L155.2,601.5 L157.2,598.8 L159.2,596.2 L161.2,593.5 L163.2,590.7 L165.2,588.0 L167.2,585.2 L169.2,582.4 L171.2,579.6 L173.2,576.7 L175.2,573.9 L177.2,571.0 L179.2,568.2 L181.2,565.3 L183.2,562.4 L185.2,559.6 L187.2,556.7 L189.2,553.9 L191.2,551.0 L193.2,548.2 L195.2,545.3 L197.2,542.5 L199.2,539.7 L201.2,536.9 L203.2,534.1 L205.2,531.3 L207.2,528.5 L209.2,525.7 L211.2,522.9 L213.2,520.1 L215.2,517.3 L217.2,514.6 L219.2,511.9 L221.2,509.2 L223.2,506.5 L225.2,503.8 L227.2,501.2 L229.2,498.5 L231.2,495.9 L233.2,493.4 L235.2,490.8 L237.2,488.3 L239.2,485.7 L241.2,483.2 L243.2,480.7 L245.2,478.3 L247.2,475.8 L249.2,473.4 L251.2,471.0 L253.2,468.6 L255.2,466.3 L257.2,464.0 L259.2,461.6 L261.2,459.3 L263.2,457.0 L265.2,454.7 L267.2,452.4 L269.2,450.2 L271.2,448.1 L273.2,446.0 L275.2,444.0 L277.2,442.1 L279.2,440.2 L281.2,438.4 L283.2,436.7 L285.2,435.1 L287.2,433.5 L289.2,432.0 L291.2,430.5 L293.2,429.1 L295.2,427.8 L297.2,426.5 L299.2,425.2 L301.2,424.0 L303.2,422.8 L305.2,421.6 L307.2,420.5 L309.2,419.4 L311.2,418.4 L313.2,417.4 L315.2,416.4 L317.2,415.5 L319.2,414.6 L321.2,413.7 L323.2,413.0 L325.2,412.2 L327.2,411.5 L329.2,410.9 L331.2,410.3 L333.2,409.8 L335.2,409.3 L337.2,408.9 L339.2,408.5 L341.2,408.3 L343.2,408.0 L345.2,407.9 L347.2,407.8 L349.2,407.8 L351.2,407.9 L353.2,408.0 L355.2,408.2 L357.2,408.4 L359.2,408.7 L361.2,409.1 L363.2,409.5 L365.2,409.9 L367.2,410.4 L369.2,411.0 L371.2,411.6 L373.2,412.2 L375.2,412.9 L377.2,413.6 L379.2,414.3 L381.2,415.1 L383.2,415.8 L385.2,416.7 L387.2,417.6 L389.2,418.5 L391.2,419.4 L393.2,420.5 L395.2,421.5 L397.2,422.7 L399.2,423.9 L401.2,425.2 L403.2,426.5 L405.2,427.9 L407.2,429.3 L409.2,430.8 L411.2,432.4 L413.2,434.0 L415.2,435.6 L417.2,437.3 L419.2,439.0 L421.2,440.7 L423.2,442.4 L425.2,444.2 L427.2,445.9 L429.2,447.7 L431.2,449.5 L433.2,451.3 L435.2,453.1 L437.2,454.9 L439.2,456.8 L441.2,458.7 L443.2,460.6 L445.2,462.5 L447.2,464.5 L449.2,466.6 L451.2,468.7 L453.2,470.8 L455.2,473.0 L457.2,475.2 L459.2,477.5 L461.2,479.8 L463.2,482.1 L465.2,484.4 L467.2,486.8 L469.2,489.1 L471.2,491.5 L473.2,493.9 L475.2,496.3 L477.2,498.8 L479.2,501.2 L481.2,503.6 L483.2,506.0 L485.2,508.4 L487.2,510.8 L489.2,513.2 L491.2,515.6 L493.2,518.0 L495.2,520.4 L497.2,522.8 L499.2,525.1 L501.2,527.5 L503.2,529.8 L505.2,532.2 L507.2,534.5 L509.2,536.8 L511.2,539.1 L513.2,541.4 L515.2,543.6 L517.2,545.9 L519.2,548.1 L521.2,550.3 L523.2,552.5 L525.2,554.6 L527.2,556.8 L529.2,558.9 L531.2,561.1 L533.2,563.2 L535.2,565.3 L537.2,567.4 L539.2,569.4 L541.2,571.5 L543.2,573.5 L545.2,575.6 L547.2,577.6 L549.2,579.7 L551.2,581.7 L553.2,583.7 L555.2,585.7 L557.2,587.7 L559.2,589.7 L561.2,591.7 L563.2,593.7 L565.2,595.7 L567.2,597.6 L569.2,599.5 L571.2,601.4 L573.2,603.2 L575.2,605.0 L577.2,606.7 L579.2,608.3 L581.2,609.9 L583.2,611.5 L585.2,613.0 L587.2,614.5 L589.2,615.9 L591.2,617.4 L593.2,618.9 L595.2,620.4 L597.2,621.8 L599.2,623.2 L601.2,624.6 L603.2,626.0 L605.2,627.4 L607.2,628.7 L609.2,630.0 L611.2,631.3 L613.2,632.6 L615.2,633.8 L617.2,635.1 L619.2,636.3 L621.2,637.5 L623.2,638.6 L625.2,639.8 L627.2,640.9 L629.2,642.0 L631.2,643.1 L633.2,644.2 L635.2,645.2 L637.2,646.3 L639.2,647.3 L641.2,648.3 L643.2,649.2 L645.2,650.2 L647.2,651.1 L649.2,652.0 L651.2,652.9 L653.2,653.7 L655.2,654.6 L657.2,655.4 L659.2,656.2 L661.2,657.0 L663.2,657.7 L665.2,658.5 L667.2,659.2 L669.2,659.9 L671.2,660.6 L673.2,661.3 L675.2,661.9 L677.2,662.6 L679.2,663.2 L681.2,663.8 L683.2,664.4 L685.2,665.0 L687.2,665.5 L689.2,666.1 L691.2,666.6 L693.2,667.1 L695.2,667.6 L697.2,668.1 L699.2,668.6 L701.2,669.0 L703.2,669.5 L705.2,669.9 L707.2,670.3 L709.2,670.7 L711.2,671.1 L713.2,671.5 L715.2,671.9 L717.2,672.3 L719.2,672.6 L721.2,672.9 L723.2,673.3 L725.2,673.6 L727.2,673.9 L729.2,674.2 L731.2,674.5 L733.2,674.8 L735.2,675.1 L737.2,675.3 L739.2,675.6 L741.2,675.8 L743.2,676.1 L745.2,676.3 L747.2,676.6 L749.2,676.8 L751.2,677.0 L753.2,677.2 L755.2,677.4 L757.2,677.6 L759.2,677.8 L761.2,678.0 L763.2,678.2 L765.2,678.4 L767.2,678.6 L769.2,678.8 L771.2,678.9 L773.2,679.1 L775.2,679.3 L777.2,679.5 L779.2,679.6 L781.2,679.8 L783.2,679.9 L785.2,680.1 L787.2,680.3 L789.2,680.4 L791.2,680.6 L793.2,680.8 L795.2,680.9 L797.2,681.1 L799.2,681.2 L801.2,681.4 L803.2,681.6 L805.2,681.7 L807.2,681.9" fill="none" stroke="#2cb27d" stroke-width="2.5"/>
<path d="M145.2,614.2 L147.2,611.7 L149.2,609.2 L151.2,606.7 L153.2,604.1 L155.2,601.5 L157.2,598.8 L159.2,596.2 L161.2,593.5 L163.2,590.7 L165.2,588.0 L167.2,585.2 L169.2,582.4 L171.2,579.6 L173.2,576.7 L175.2,573.9 L177.2,571.0 L179.2,568.2 L181.2,565.3 L183.2,562.4 L185.2,559.6 L187.2,556.7 L189.2,553.9 L191.2,551.0 L193.2,548.2 L195.2,545.3 L197.2,542.5 L199.2,539.7 L201.2,536.9 L203.2,534.1 L205.2,531.3 L207.2,528.5 L209.2,525.7 L211.2,522.9 L213.2,520.1 L215.2,517.3 L217.2,514.6 L219.2,511.9 L221.2,509.2 L223.2,506.5 L225.2,503.8 L227.2,501.2 L229.2,498.5 L231.2,495.9 L233.2,493.4 L235.2,490.8 L237.2,488.3 L239.2,485.7 L241.2,483.2 L243.2,480.7 L245.2,478.3 L247.2,475.8 L249.2,473.4 L251.2,471.0 L253.2,468.6 L255.2,466.3 L257.2,464.0 L259.2,461.6 L261.2,459.3 L263.2,457.1 L265.2,454.9 L267.2,452.7 L269.2,450.7 L271.2,448.6 L273.2,446.7 L275.2,444.7 L277.2,442.8 L279.2,440.9 L281.2,439.1 L283.2,437.4 L285.2,435.7 L287.2,434.1 L289.2,432.6 L291.2,431.1 L293.2,429.7 L295.2,428.3 L297.2,427.0 L299.2,425.7 L301.2,424.5 L303.2,423.3 L305.2,422.1 L307.2,421.0 L309.2,419.9 L311.2,418.9 L313.2,417.9 L315.2,417.0 L317.2,416.1 L319.2,415.2 L321.2,414.3 L323.2,413.5 L325.2,412.8 L327.2,412.1 L329.2,411.4 L331.2,410.8 L333.2,410.2 L335.2,409.7 L337.2,409.2 L339.2,408.8 L341.2,408.5 L343.2,408.3 L345.2,408.1 L347.2,408.0 L349.2,407.9 L351.2,407.9 L353.2,408.0 L355.2,408.2 L357.2,408.4 L359.2,408.7 L361.2,409.1 L363.2,409.5 L365.2,409.9 L367.2,410.4 L369.2,411.0 L371.2,411.6 L373.2,412.2 L375.2,412.9 L377.2,413.6 L379.2,414.3 L381.2,415.1 L383.2,415.8 L385.2,416.7 L387.2,417.6 L389.2,418.5 L391.2,419.4 L393.2,420.5 L395.2,421.5 L397.2,422.7 L399.2,423.9 L401.2,425.2 L403.2,426.5 L405.2,427.9 L407.2,429.3 L409.2,430.8 L411.2,432.4 L413.2,434.0 L415.2,435.6 L417.2,437.3 L419.2,439.0 L421.2,440.7 L423.2,442.4 L425.2,444.2 L427.2,445.9 L429.2,447.7 L431.2,449.5 L433.2,451.3 L435.2,453.1 L437.2,454.9 L439.2,456.8 L441.2,458.7 L443.2,460.6 L445.2,462.5 L447.2,464.5 L449.2,466.6 L451.2,468.7 L453.2,470.8 L455.2,473.0 L457.2,475.2 L459.2,477.5 L461.2,479.8 L463.2,482.1 L465.2,484.4 L467.2,486.8 L469.2,489.1 L471.2,491.5 L473.2,493.9 L475.2,496.3 L477.2,498.8 L479.2,501.2 L481.2,503.6 L483.2,506.0 L485.2,508.4 L487.2,510.8 L489.2,513.2 L491.2,515.6 L493.2,518.0 L495.2,520.4 L497.2,522.8 L499.2,525.1 L501.2,527.5 L503.2,529.8 L505.2,532.2 L507.2,534.5 L509.2,536.8 L511.2,539.1 L513.2,541.4 L515.2,543.6 L517.2,545.9 L519.2,548.1 L521.2,550.3 L523.2,552.5 L525.2,554.6 L527.2,556.8 L529.2,558.9 L531.2,561.1 L533.2,563.2 L535.2,565.3 L537.2,567.4 L539.2,569.4 L541.2,571.5 L543.2,573.5 L545.2,575.6 L547.2,577.6 L549.2,579.7 L551.2,581.7 L553.2,583.7 L555.2,585.7 L557.2,587.7 L559.2,589.7 L561.2,591.7 L563.2,593.7 L565.2,595.7 L567.2,597.6 L569.2,599.5 L571.2,601.4 L573.2,603.2 L575.2,605.0 L577.2,606.7 L579.2,608.3 L581.2,609.9 L583.2,611.5 L585.2,613.0 L587.2,614.5 L589.2,615.9 L591.2,617.4 L593.2,618.9 L595.2,620.4 L597.2,621.8 L599.2,623.2 L601.2,624.6 L603.2,626.0 L605.2,627.4 L607.2,628.7 L609.2,630.0 L611.2,631.3 L613.2,632.6 L615.2,633.8 L617.2,635.1 L619.2,636.3 L621.2,637.5 L623.2,638.6 L625.2,639.8 L627.2,640.9 L629.2,642.0 L631.2,643.1 L633.2,644.2 L635.2,645.2 L637.2,646.3 L639.2,647.3 L641.2,648.3 L643.2,649.2 L645.2,650.2 L647.2,651.1 L649.2,652.0 L651.2,652.9 L653.2,653.7 L655.2,654.6 L657.2,655.4 L659.2,656.2 L661.2,657.0 L663.2,657.7 L665.2,658.5 L667.2,659.2 L669.2,659.9 L671.2,660.6 L673.2,661.3 L675.2,661.9 L677.2,662.6 L679.2,663.2 L681.2,663.8 L683.2,664.4 L685.2,665.0 L687.2,665.5 L689.2,666.1 L691.2,666.6 L693.2,667.1 L695.2,667.6 L697.2,668.1 L699.2,668.6 L701.2,669.0 L703.2,669.5 L705.2,669.9 L707.2,670.3 L709.2,670.7 L711.2,671.1 L713.2,671.5 L715.2,671.9 L717.2,672.3 L719.2,672.6 L721.2,672.9 L723.2,673.3 L725.2,673.6 L727.2,673.9 L729.2,674.2 L731.2,674.5 L733.2,674.8 L735.2,675.1 L737.2,675.3 L739.2,675.6 L741.2,675.8 L743.2,676.1 L745.2,676.3 L747.2,676.6 L749.2,676.8 L751.2,677.0 L753.2,677.2 L755.2,677.4 L757.2,677.6 L759.2,677.8 L761.2,678.0 L763.2,678.2 L765.2,678.4 L767.2,678.6 L769.2,678.8 L771.2,678.9 L773.2,679.1 L775.2,679.3 L777.2,679.5 L779.2,679.6 L781.2,679.8 L783.2,679.9 L785.2,680.1 L787.2,680.3 L789.2,680.4 L791.2,680.6 L793.2,680.8 L795.2,680.9 L797.2,681.1 L799.2,681.2 L801.2,681.4 L803.2,681.6 L805.2,681.7 L807.2,681.9" fill="none" stroke="#2e10b0" stroke-width="2.7" stroke-dasharray="11.9 11.9"/>
</g>
<g clip-path="url(#c2)">
<g fill="#ff0000"><circle cx="145.0" cy="993.6" r="3.65"/><circle cx="161.6" cy="987.6" r="3.65"/><circle cx="178.0" cy="982.0" r="3.65"/><circle cx="194.4" cy="969.0" r="3.65"/><circle cx="210.6" cy="953.6" r="3.65"/><circle cx="227.4" cy="934.4" r="3.65"/><circle cx="243.6" cy="914.4" r="3.65"/><circle cx="260.0" cy="891.0" r="3.65"/><circle cx="276.4" cy="864.4" r="3.65"/><circle cx="293.0" cy="842.0" r="3.65"/><circle cx="309.0" cy="817.6" r="3.65"/><circle cx="325.6" cy="793.6" r="3.65"/><circle cx="342.0" cy="771.6" r="3.65"/><circle cx="358.6" cy="755.6" r="3.65"/><circle cx="375.0" cy="743.6" r="3.65"/><circle cx="391.4" cy="736.0" r="3.65"/><circle cx="408.0" cy="734.0" r="3.65"/><circle cx="424.4" cy="738.4" r="3.65"/><circle cx="441.0" cy="746.0" r="3.65"/><circle cx="456.6" cy="761.0" r="3.65"/><circle cx="473.4" cy="777.0" r="3.65"/><circle cx="489.4" cy="795.0" r="3.65"/><circle cx="506.0" cy="817.4" r="3.65"/><circle cx="522.4" cy="838.4" r="3.65"/><circle cx="539.0" cy="858.0" r="3.65"/><circle cx="555.4" cy="879.4" r="3.65"/><circle cx="571.4" cy="899.0" r="3.65"/><circle cx="588.0" cy="915.6" r="3.65"/><circle cx="604.4" cy="931.6" r="3.65"/><circle cx="621.0" cy="946.4" r="3.65"/><circle cx="637.6" cy="958.4" r="3.65"/><circle cx="652.6" cy="968.0" r="3.65"/><circle cx="669.4" cy="977.0" r="3.65"/><circle cx="686.6" cy="984.0" r="3.65"/><circle cx="703.0" cy="989.4" r="3.65"/><circle cx="719.0" cy="994.4" r="3.65"/><circle cx="735.6" cy="998.6" r="3.65"/><circle cx="752.6" cy="1001.6" r="3.65"/><circle cx="769.0" cy="1004.0" r="3.65"/><circle cx="785.0" cy="1005.6" r="3.65"/><circle cx="801.4" cy="1007.0" r="3.65"/></g>
<g fill="#000"><polygon points="153.4,989.6 154.7,993.6 158.9,993.6 155.5,996.1 156.8,1000.1 153.4,997.6 150.0,1000.1 151.3,996.1 147.9,993.6 152.1,993.6"/><polygon points="170.0,981.0 171.3,985.0 175.5,985.0 172.1,987.5 173.4,991.5 170.0,989.0 166.6,991.5 167.9,987.5 164.5,985.0 168.7,985.0"/><polygon points="186.6,970.2 187.9,974.2 192.1,974.2 188.7,976.7 190.0,980.7 186.6,978.2 183.2,980.7 184.5,976.7 181.1,974.2 185.3,974.2"/><polygon points="203.4,955.6 204.7,959.6 208.9,959.6 205.5,962.1 206.8,966.1 203.4,963.6 200.0,966.1 201.3,962.1 197.9,959.6 202.1,959.6"/><polygon points="220.0,938.2 221.3,942.2 225.5,942.2 222.1,944.7 223.4,948.7 220.0,946.2 216.6,948.7 217.9,944.7 214.5,942.2 218.7,942.2"/><polygon points="236.6,918.2 237.9,922.2 242.1,922.2 238.7,924.7 240.0,928.7 236.6,926.2 233.2,928.7 234.5,924.7 231.1,922.2 235.3,922.2"/><polygon points="253.4,896.6 254.7,900.6 258.9,900.6 255.5,903.1 256.8,907.1 253.4,904.6 250.0,907.1 251.3,903.1 247.9,900.6 252.1,900.6"/><polygon points="269.4,871.0 270.7,875.0 274.9,875.0 271.5,877.5 272.8,881.5 269.4,879.0 266.0,881.5 267.3,877.5 263.9,875.0 268.1,875.0"/><polygon points="286.4,846.6 287.7,850.6 291.9,850.6 288.5,853.1 289.8,857.1 286.4,854.6 283.0,857.1 284.3,853.1 280.9,850.6 285.1,850.6"/><polygon points="302.4,823.0 303.7,827.0 307.9,827.0 304.5,829.5 305.8,833.5 302.4,831.0 299.0,833.5 300.3,829.5 296.9,827.0 301.1,827.0"/><polygon points="319.0,797.2 320.3,801.2 324.5,801.2 321.1,803.7 322.4,807.7 319.0,805.2 315.6,807.7 316.9,803.7 313.5,801.2 317.7,801.2"/><polygon points="335.4,776.2 336.7,780.2 340.9,780.2 337.5,782.7 338.8,786.7 335.4,784.2 332.0,786.7 333.3,782.7 329.9,780.2 334.1,780.2"/><polygon points="352.0,758.6 353.3,762.6 357.5,762.6 354.1,765.1 355.4,769.1 352.0,766.6 348.6,769.1 349.9,765.1 346.5,762.6 350.7,762.6"/><polygon points="368.6,744.2 369.9,748.2 374.1,748.2 370.7,750.7 372.0,754.7 368.6,752.2 365.2,754.7 366.5,750.7 363.1,748.2 367.3,748.2"/><polygon points="385.4,734.2 386.7,738.2 390.9,738.2 387.5,740.7 388.8,744.7 385.4,742.2 382.0,744.7 383.3,740.7 379.9,738.2 384.1,738.2"/><polygon points="402.4,731.0 403.7,735.0 407.9,735.0 404.5,737.5 405.8,741.5 402.4,739.0 399.0,741.5 400.3,737.5 396.9,735.0 401.1,735.0"/><polygon points="419.0,733.6 420.3,737.6 424.5,737.6 421.1,740.1 422.4,744.1 419.0,741.6 415.6,744.1 416.9,740.1 413.5,737.6 417.7,737.6"/><polygon points="435.6,739.6 436.9,743.6 441.1,743.6 437.7,746.1 439.0,750.1 435.6,747.6 432.2,750.1 433.5,746.1 430.1,743.6 434.3,743.6"/><polygon points="452.0,750.6 453.3,754.6 457.5,754.6 454.1,757.1 455.4,761.1 452.0,758.6 448.6,761.1 449.9,757.1 446.5,754.6 450.7,754.6"/><polygon points="468.4,768.0 469.7,772.0 473.9,772.0 470.5,774.5 471.8,778.5 468.4,776.0 465.0,778.5 466.3,774.5 462.9,772.0 467.1,772.0"/><polygon points="484.6,787.6 485.9,791.6 490.1,791.6 486.7,794.1 488.0,798.1 484.6,795.6 481.2,798.1 482.5,794.1 479.1,791.6 483.3,791.6"/><polygon points="501.6,806.2 502.9,810.2 507.1,810.2 503.7,812.7 505.0,816.7 501.6,814.2 498.2,816.7 499.5,812.7 496.1,810.2 500.3,810.2"/><polygon points="518.4,829.6 519.7,833.6 523.9,833.6 520.5,836.1 521.8,840.1 518.4,837.6 515.0,840.1 516.3,836.1 512.9,833.6 517.1,833.6"/><polygon points="535.0,851.0 536.3,855.0 540.5,855.0 537.1,857.5 538.4,861.5 535.0,859.0 531.6,861.5 532.9,857.5 529.5,855.0 533.7,855.0"/><polygon points="551.6,868.6 552.9,872.6 557.1,872.6 553.7,875.1 555.0,879.1 551.6,876.6 548.2,879.1 549.5,875.1 546.1,872.6 550.3,872.6"/><polygon points="568.4,890.2 569.7,894.2 573.9,894.2 570.5,896.7 571.8,900.7 568.4,898.2 565.0,900.7 566.3,896.7 562.9,894.2 567.1,894.2"/><polygon points="585.0,908.2 586.3,912.2 590.5,912.2 587.1,914.7 588.4,918.7 585.0,916.2 581.6,918.7 582.9,914.7 579.5,912.2 583.7,912.2"/><polygon points="601.6,924.0 602.9,928.0 607.1,928.0 603.7,930.5 605.0,934.5 601.6,932.0 598.2,934.5 599.5,930.5 596.1,928.0 600.3,928.0"/><polygon points="618.6,938.6 619.9,942.6 624.1,942.6 620.7,945.1 622.0,949.1 618.6,946.6 615.2,949.1 616.5,945.1 613.1,942.6 617.3,942.6"/><polygon points="634.6,952.2 635.9,956.2 640.1,956.2 636.7,958.7 638.0,962.7 634.6,960.2 631.2,962.7 632.5,958.7 629.1,956.2 633.3,956.2"/><polygon points="651.0,960.6 652.3,964.6 656.5,964.6 653.1,967.1 654.4,971.1 651.0,968.6 647.6,971.1 648.9,967.1 645.5,964.6 649.7,964.6"/><polygon points="668.0,970.2 669.3,974.2 673.5,974.2 670.1,976.7 671.4,980.7 668.0,978.2 664.6,980.7 665.9,976.7 662.5,974.2 666.7,974.2"/><polygon points="684.6,977.2 685.9,981.2 690.1,981.2 686.7,983.7 688.0,987.7 684.6,985.2 681.2,987.7 682.5,983.7 679.1,981.2 683.3,981.2"/><polygon points="701.4,983.0 702.7,987.0 706.9,987.0 703.5,989.5 704.8,993.5 701.4,991.0 698.0,993.5 699.3,989.5 695.9,987.0 700.1,987.0"/><polygon points="718.0,988.2 719.3,992.2 723.5,992.2 720.1,994.7 721.4,998.7 718.0,996.2 714.6,998.7 715.9,994.7 712.5,992.2 716.7,992.2"/><polygon points="734.6,992.6 735.9,996.6 740.1,996.6 736.7,999.1 738.0,1003.1 734.6,1000.6 731.2,1003.1 732.5,999.1 729.1,996.6 733.3,996.6"/><polygon points="751.4,995.6 752.7,999.6 756.9,999.6 753.5,1002.1 754.8,1006.1 751.4,1003.6 748.0,1006.1 749.3,1002.1 745.9,999.6 750.1,999.6"/><polygon points="768.0,998.2 769.3,1002.2 773.5,1002.2 770.1,1004.7 771.4,1008.7 768.0,1006.2 764.6,1008.7 765.9,1004.7 762.5,1002.2 766.7,1002.2"/></g>
<path d="M145.2,997.0 L147.2,996.2 L149.2,995.3 L151.2,994.5 L153.2,993.6 L155.2,992.7 L157.2,991.8 L159.2,990.8 L161.2,989.8 L163.2,988.8 L165.2,987.7 L167.2,986.6 L169.2,985.5 L171.2,984.3 L173.2,983.1 L175.2,981.8 L177.2,980.5 L179.2,979.2 L181.2,977.8 L183.2,976.4 L185.2,974.9 L187.2,973.4 L189.2,971.8 L191.2,970.2 L193.2,968.6 L195.2,966.8 L197.2,965.1 L199.2,963.2 L201.2,961.4 L203.2,959.4 L205.2,957.5 L207.2,955.4 L209.2,953.4 L211.2,951.2 L213.2,949.1 L215.2,946.9 L217.2,944.7 L219.2,942.4 L221.2,940.1 L223.2,937.7 L225.2,935.4 L227.2,933.0 L229.2,930.6 L231.2,928.2 L233.2,925.7 L235.2,923.2 L237.2,920.8 L239.2,918.2 L241.2,915.7 L243.2,913.1 L245.2,910.5 L247.2,907.9 L249.2,905.3 L251.2,902.6 L253.2,899.8 L255.2,897.1 L257.2,894.3 L259.2,891.5 L261.2,888.6 L263.2,885.8 L265.2,882.9 L267.2,880.0 L269.2,877.0 L271.2,874.1 L273.2,871.1 L275.2,868.1 L277.2,865.1 L279.2,862.0 L281.2,859.0 L283.2,855.9 L285.2,852.9 L287.2,849.8 L289.2,846.7 L291.2,843.6 L293.2,840.6 L295.2,837.5 L297.2,834.5 L299.2,831.5 L301.2,828.5 L303.2,825.6 L305.2,822.7 L307.2,819.8 L309.2,817.0 L311.2,814.2 L313.2,811.5 L315.2,808.8 L317.2,806.1 L319.2,803.4 L321.2,800.8 L323.2,798.1 L325.2,795.5 L327.2,792.8 L329.2,790.2 L331.2,787.6 L333.2,785.0 L335.2,782.5 L337.2,780.0 L339.2,777.5 L341.2,775.1 L343.2,772.8 L345.2,770.6 L347.2,768.4 L349.2,766.4 L351.2,764.4 L353.2,762.5 L355.2,760.6 L357.2,758.8 L359.2,757.1 L361.2,755.4 L363.2,753.8 L365.2,752.3 L367.2,750.8 L369.2,749.3 L371.2,748.0 L373.2,746.7 L375.2,745.4 L377.2,744.2 L379.2,743.1 L381.2,742.1 L383.2,741.1 L385.2,740.3 L387.2,739.4 L389.2,738.7 L391.2,738.0 L393.2,737.4 L395.2,736.9 L397.2,736.5 L399.2,736.1 L401.2,735.8 L403.2,735.6 L405.2,735.5 L407.2,735.4 L409.2,735.5 L411.2,735.6 L413.2,735.8 L415.2,736.1 L417.2,736.5 L419.2,737.0 L421.2,737.5 L423.2,738.2 L425.2,738.9 L427.2,739.8 L429.2,740.7 L431.2,741.7 L433.2,742.7 L435.2,743.9 L437.2,745.0 L439.2,746.3 L441.2,747.6 L443.2,749.0 L445.2,750.4 L447.2,751.8 L449.2,753.3 L451.2,754.8 L453.2,756.4 L455.2,758.0 L457.2,759.6 L459.2,761.3 L461.2,763.0 L463.2,764.7 L465.2,766.5 L467.2,768.4 L469.2,770.3 L471.2,772.2 L473.2,774.2 L475.2,776.3 L477.2,778.4 L479.2,780.6 L481.2,782.8 L483.2,785.2 L485.2,787.6 L487.2,790.1 L489.2,792.7 L491.2,795.4 L493.2,798.1 L495.2,800.9 L497.2,803.7 L499.2,806.5 L501.2,809.3 L503.2,812.1 L505.2,814.8 L507.2,817.5 L509.2,820.1 L511.2,822.7 L513.2,825.3 L515.2,827.8 L517.2,830.4 L519.2,832.9 L521.2,835.4 L523.2,837.9 L525.2,840.4 L527.2,842.9 L529.2,845.3 L531.2,847.8 L533.2,850.3 L535.2,852.8 L537.2,855.3 L539.2,857.8 L541.2,860.3 L543.2,862.8 L545.2,865.3 L547.2,867.8 L549.2,870.2 L551.2,872.7 L553.2,875.2 L555.2,877.6 L557.2,880.1 L559.2,882.5 L561.2,884.9 L563.2,887.3 L565.2,889.7 L567.2,892.0 L569.2,894.4 L571.2,896.7 L573.2,899.0 L575.2,901.3 L577.2,903.5 L579.2,905.8 L581.2,908.0 L583.2,910.1 L585.2,912.3 L587.2,914.4 L589.2,916.5 L591.2,918.6 L593.2,920.6 L595.2,922.6 L597.2,924.6 L599.2,926.6 L601.2,928.5 L603.2,930.4 L605.2,932.3 L607.2,934.1 L609.2,935.9 L611.2,937.6 L613.2,939.4 L615.2,941.1 L617.2,942.7 L619.2,944.4 L621.2,946.0 L623.2,947.5 L625.2,949.1 L627.2,950.6 L629.2,952.1 L631.2,953.5 L633.2,955.0 L635.2,956.4 L637.2,957.8 L639.2,959.1 L641.2,960.4 L643.2,961.7 L645.2,963.0 L647.2,964.2 L649.2,965.4 L651.2,966.6 L653.2,967.8 L655.2,968.9 L657.2,970.1 L659.2,971.1 L661.2,972.2 L663.2,973.3 L665.2,974.3 L667.2,975.3 L669.2,976.3 L671.2,977.2 L673.2,978.2 L675.2,979.1 L677.2,980.0 L679.2,980.8 L681.2,981.7 L683.2,982.5 L685.2,983.3 L687.2,984.1 L689.2,984.9 L691.2,985.6 L693.2,986.4 L695.2,987.1 L697.2,987.8 L699.2,988.5 L701.2,989.1 L703.2,989.8 L705.2,990.4 L707.2,991.0 L709.2,991.6 L711.2,992.2 L713.2,992.8 L715.2,993.3 L717.2,993.8 L719.2,994.4 L721.2,994.9 L723.2,995.4 L725.2,995.8 L727.2,996.3 L729.2,996.8 L731.2,997.2 L733.2,997.6 L735.2,998.0 L737.2,998.4 L739.2,998.8 L741.2,999.2 L743.2,999.6 L745.2,999.9 L747.2,1000.3 L749.2,1000.6 L751.2,1001.0 L753.2,1001.3 L755.2,1001.6 L757.2,1001.9 L759.2,1002.2 L761.2,1002.5 L763.2,1002.8 L765.2,1003.0 L767.2,1003.3 L769.2,1003.6 L771.2,1003.8 L773.2,1004.1 L775.2,1004.3 L777.2,1004.5 L779.2,1004.8 L781.2,1005.0 L783.2,1005.2 L785.2,1005.4 L787.2,1005.6 L789.2,1005.8 L791.2,1006.1 L793.2,1006.3 L795.2,1006.5 L797.2,1006.7 L799.2,1006.8 L801.2,1007.0 L803.2,1007.2 L805.2,1007.4 L807.2,1007.6" fill="none" stroke="#2cb27d" stroke-width="2.5"/>
<path d="M145.2,997.0 L147.2,996.2 L149.2,995.3 L151.2,994.5 L153.2,993.6 L155.2,992.7 L157.2,991.8 L159.2,990.8 L161.2,989.8 L163.2,988.8 L165.2,987.7 L167.2,986.6 L169.2,985.5 L171.2,984.3 L173.2,983.1 L175.2,981.8 L177.2,980.5 L179.2,979.2 L181.2,977.8 L183.2,976.4 L185.2,974.9 L187.2,973.4 L189.2,971.8 L191.2,970.2 L193.2,968.6 L195.2,966.8 L197.2,965.1 L199.2,963.2 L201.2,961.4 L203.2,959.4 L205.2,957.5 L207.2,955.4 L209.2,953.4 L211.2,951.2 L213.2,949.1 L215.2,946.9 L217.2,944.7 L219.2,942.4 L221.2,940.1 L223.2,937.8 L225.2,935.4 L227.2,933.1 L229.2,930.7 L231.2,928.3 L233.2,925.9 L235.2,923.5 L237.2,921.1 L239.2,918.6 L241.2,916.1 L243.2,913.6 L245.2,911.1 L247.2,908.5 L249.2,905.9 L251.2,903.3 L253.2,900.6 L255.2,897.9 L257.2,895.1 L259.2,892.4 L261.2,889.6 L263.2,886.8 L265.2,883.9 L267.2,881.0 L269.2,878.1 L271.2,875.2 L273.2,872.3 L275.2,869.3 L277.2,866.3 L279.2,863.3 L281.2,860.3 L283.2,857.3 L285.2,854.2 L287.2,851.2 L289.2,848.1 L291.2,845.0 L293.2,842.0 L295.2,838.9 L297.2,835.9 L299.2,832.9 L301.2,829.9 L303.2,827.0 L305.2,824.0 L307.2,821.2 L309.2,818.4 L311.2,815.6 L313.2,812.8 L315.2,810.1 L317.2,807.4 L319.2,804.7 L321.2,802.1 L323.2,799.4 L325.2,796.7 L327.2,794.1 L329.2,791.4 L331.2,788.8 L333.2,786.2 L335.2,783.7 L337.2,781.1 L339.2,778.7 L341.2,776.3 L343.2,774.0 L345.2,771.7 L347.2,769.6 L349.2,767.5 L351.2,765.5 L353.2,763.6 L355.2,761.7 L357.2,759.9 L359.2,758.2 L361.2,756.5 L363.2,754.9 L365.2,753.4 L367.2,751.9 L369.2,750.4 L371.2,749.1 L373.2,747.7 L375.2,746.5 L377.2,745.3 L379.2,744.1 L381.2,743.0 L383.2,742.0 L385.2,741.1 L387.2,740.2 L389.2,739.4 L391.2,738.7 L393.2,738.0 L395.2,737.4 L397.2,736.9 L399.2,736.5 L401.2,736.1 L403.2,735.8 L405.2,735.7 L407.2,735.6 L409.2,735.6 L411.2,735.6 L413.2,735.8 L415.2,736.1 L417.2,736.5 L419.2,737.0 L421.2,737.5 L423.2,738.2 L425.2,738.9 L427.2,739.8 L429.2,740.7 L431.2,741.7 L433.2,742.7 L435.2,743.9 L437.2,745.0 L439.2,746.3 L441.2,747.6 L443.2,749.0 L445.2,750.4 L447.2,751.8 L449.2,753.3 L451.2,754.8 L453.2,756.4 L455.2,758.0 L457.2,759.6 L459.2,761.3 L461.2,763.0 L463.2,764.7 L465.2,766.5 L467.2,768.4 L469.2,770.3 L471.2,772.2 L473.2,774.2 L475.2,776.3 L477.2,778.4 L479.2,780.6 L481.2,782.8 L483.2,785.2 L485.2,787.6 L487.2,790.1 L489.2,792.7 L491.2,795.4 L493.2,798.1 L495.2,800.9 L497.2,803.7 L499.2,806.5 L501.2,809.3 L503.2,812.1 L505.2,814.8 L507.2,817.5 L509.2,820.1 L511.2,822.7 L513.2,825.3 L515.2,827.8 L517.2,830.4 L519.2,832.9 L521.2,835.4 L523.2,837.9 L525.2,840.4 L527.2,842.9 L529.2,845.3 L531.2,847.8 L533.2,850.3 L535.2,852.8 L537.2,855.3 L539.2,857.8 L541.2,860.3 L543.2,862.8 L545.2,865.3 L547.2,867.8 L549.2,870.2 L551.2,872.7 L553.2,875.2 L555.2,877.6 L557.2,880.1 L559.2,882.5 L561.2,884.9 L563.2,887.3 L565.2,889.7 L567.2,892.0 L569.2,894.4 L571.2,896.7 L573.2,899.0 L575.2,901.3 L577.2,903.5 L579.2,905.8 L581.2,908.0 L583.2,910.1 L585.2,912.3 L587.2,914.4 L589.2,916.5 L591.2,918.6 L593.2,920.6 L595.2,922.6 L597.2,924.6 L599.2,926.6 L601.2,928.5 L603.2,930.4 L605.2,932.3 L607.2,934.1 L609.2,935.9 L611.2,937.6 L613.2,939.4 L615.2,941.1 L617.2,942.7 L619.2,944.4 L621.2,946.0 L623.2,947.5 L625.2,949.1 L627.2,950.6 L629.2,952.1 L631.2,953.5 L633.2,955.0 L635.2,956.4 L637.2,957.8 L639.2,959.1 L641.2,960.4 L643.2,961.7 L645.2,963.0 L647.2,964.2 L649.2,965.4 L651.2,966.6 L653.2,967.8 L655.2,968.9 L657.2,970.1 L659.2,971.1 L661.2,972.2 L663.2,973.3 L665.2,974.3 L667.2,975.3 L669.2,976.3 L671.2,977.2 L673.2,978.2 L675.2,979.1 L677.2,980.0 L679.2,980.8 L681.2,981.7 L683.2,982.5 L685.2,983.3 L687.2,984.1 L689.2,984.9 L691.2,985.6 L693.2,986.4 L695.2,987.1 L697.2,987.8 L699.2,988.5 L701.2,989.1 L703.2,989.8 L705.2,990.4 L707.2,991.0 L709.2,991.6 L711.2,992.2 L713.2,992.8 L715.2,993.3 L717.2,993.8 L719.2,994.4 L721.2,994.9 L723.2,995.4 L725.2,995.8 L727.2,996.3 L729.2,996.8 L731.2,997.2 L733.2,997.6 L735.2,998.0 L737.2,998.4 L739.2,998.8 L741.2,999.2 L743.2,999.6 L745.2,999.9 L747.2,1000.3 L749.2,1000.6 L751.2,1001.0 L753.2,1001.3 L755.2,1001.6 L757.2,1001.9 L759.2,1002.2 L761.2,1002.5 L763.2,1002.8 L765.2,1003.0 L767.2,1003.3 L769.2,1003.6 L771.2,1003.8 L773.2,1004.1 L775.2,1004.3 L777.2,1004.5 L779.2,1004.8 L781.2,1005.0 L783.2,1005.2 L785.2,1005.4 L787.2,1005.6 L789.2,1005.8 L791.2,1006.1 L793.2,1006.3 L795.2,1006.5 L797.2,1006.7 L799.2,1006.8 L801.2,1007.0 L803.2,1007.2 L805.2,1007.4 L807.2,1007.6" fill="none" stroke="#2e10b0" stroke-width="2.7" stroke-dasharray="11.9 11.9"/>
</g>
<text x="117.2" y="127.8" font-size="29.7" text-anchor="end" fill="#000" font-family="Liberation Serif, serif" >2000</text>
<text x="117.2" y="247.5" font-size="29.7" text-anchor="end" fill="#000" font-family="Liberation Serif, serif" >1000</text>
<text x="117.2" y="460.2" font-size="29.7" text-anchor="end" fill="#000" font-family="Liberation Serif, serif" >2000</text>
<text x="117.2" y="577.3" font-size="29.7" text-anchor="end" fill="#000" font-family="Liberation Serif, serif" >1000</text>
<text x="117.2" y="767.4" font-size="29.7" text-anchor="end" fill="#000" font-family="Liberation Serif, serif" >1500</text>
<text x="117.2" y="852.3" font-size="29.7" text-anchor="end" fill="#000" font-family="Liberation Serif, serif" >1000</text>
<text x="117.2" y="937.3" font-size="29.7" text-anchor="end" fill="#000" font-family="Liberation Serif, serif" >500</text>
<text x="118.3" y="69.9" font-size="29.7" text-anchor="end" fill="#000" font-family="Liberation Serif, serif" >x 10</text>
<text x="125.4" y="58.0" font-size="23.6" text-anchor="start" fill="#000" font-family="Liberation Serif, serif" >4</text>
<text x="118.3" y="401.8" font-size="29.7" text-anchor="end" fill="#000" font-family="Liberation Serif, serif" >x 10</text>
<text x="125.4" y="389.9" font-size="23.6" text-anchor="start" fill="#000" font-family="Liberation Serif, serif" >3</text>
<text x="118.3" y="708.9" font-size="29.7" text-anchor="end" fill="#000" font-family="Liberation Serif, serif" >x 10</text>
<text x="125.4" y="696.8" font-size="23.6" text-anchor="start" fill="#000" font-family="Liberation Serif, serif" >3</text>
<text transform="translate(34.4,174.0) rotate(-90)" font-size="29.7" text-anchor="start" fill="#000" font-family="Liberation Serif, serif">EdN/dE</text>
<path transform="translate(34.4,42.9) rotate(-90) translate(-211.05,-63.3) translate(204,40) scale(0.03614)" d="M193,378 C203,290 240,226 292,224 C352,224 385,290 405,370 L430,490 L518,253 L602,253 L447,590 C462,680 457,760 432,806 C415,832 373,832 360,800 C338,740 358,650 388,590 L382,560 C362,450 335,302 285,292 C255,290 240,325 230,386 Z" fill="#000"/>
<text transform="translate(34.4,501.8) rotate(-90)" font-size="29.7" text-anchor="start" fill="#000" font-family="Liberation Serif, serif">EdN/dE</text>
<text transform="translate(34.4,377.9) rotate(-90)" font-size="29.7" text-anchor="start" fill="#000" font-family="Liberation Serif, serif">e</text>
<text transform="translate(18.8,364.2) rotate(-90)" font-size="20" text-anchor="start" fill="#000" font-family="Liberation Serif, serif">-</text>
<text transform="translate(34.4,833.7) rotate(-90)" font-size="29.7" text-anchor="start" fill="#000" font-family="Liberation Serif, serif">EdN/dE</text>
<text transform="translate(34.4,710.0) rotate(-90)" font-size="29.7" text-anchor="start" fill="#000" font-family="Liberation Serif, serif">e</text>
<text transform="translate(21.3,696.9) rotate(-90)" font-size="20" text-anchor="start" fill="#000" font-family="Liberation Serif, serif">+</text>
<path transform=" translate(204,40) scale(0.03614)" d="M193,378 C203,290 240,226 292,224 C352,224 385,290 405,370 L430,490 L518,253 L602,253 L447,590 C462,680 457,760 432,806 C415,832 373,832 360,800 C338,740 358,650 388,590 L382,560 C362,450 335,302 285,292 C255,290 240,325 230,386 Z" fill="#000"/>
<text x="231.6" y="63.3" font-size="29.7" text-anchor="start" fill="#000" font-family="Liberation Serif, serif" >at E=10</text>
<text x="326.0" y="48.6" font-size="20" text-anchor="start" fill="#000" font-family="Liberation Serif, serif" >16</text>
<text x="351.6" y="63.3" font-size="29.7" text-anchor="start" fill="#000" font-family="Liberation Serif, serif" >eV and 0</text>
<text x="458.0" y="49.0" font-size="20" text-anchor="start" fill="#000" font-family="Liberation Serif, serif" >o</text>
<text x="609.6" y="63.4" font-size="29.7" text-anchor="start" fill="#000" font-family="Liberation Serif, serif" >700 g/cm</text>
<text x="720.6" y="48.6" font-size="20" text-anchor="start" fill="#000" font-family="Liberation Serif, serif" >2</text>
<circle cx="609.4" cy="128.8" r="5.9" fill="#ff0000"/>
<line x1="568.2" x2="609.7" y1="161.4" y2="161.4" stroke="#505050" stroke-width="1.15"/>
<line x1="568.5" x2="609.7" y1="194.0" y2="194.0" stroke="#585858" stroke-width="1.15" stroke-dasharray="4.8 4.28"/>
<g fill="#000"><polygon points="609.4,221.4 610.7,225.5 615.0,225.5 611.5,228.0 612.9,232.1 609.4,229.6 605.9,232.1 607.3,228.0 603.8,225.5 608.1,225.5"/></g>
<text x="631.6" y="138.4" font-size="29.7" text-anchor="start" fill="#ff0000" font-family="Liberation Serif, serif" >MC</text>
<text x="631.3" y="171.3" font-size="29.7" text-anchor="start" fill="#2cb27d" font-family="Liberation Serif, serif" >CE</text>
<text x="631.6" y="203.2" font-size="29.7" text-anchor="start" fill="#2e10b0" font-family="Liberation Serif, serif" >Hybrid</text>
<text x="631.3" y="236.1" font-size="29.7" text-anchor="start" fill="#000" font-family="Liberation Serif, serif" >CORSIKA</text>
<text x="150.9" y="1051.6" font-size="29.7" text-anchor="end" fill="#000" font-family="Liberation Serif, serif" >10</text>
<text x="157.4" y="1032.3" font-size="23.6" text-anchor="start" fill="#000" font-family="Liberation Serif, serif" >-3</text>
<text x="316.6" y="1051.6" font-size="29.7" text-anchor="end" fill="#000" font-family="Liberation Serif, serif" >10</text>
<text x="323.1" y="1032.3" font-size="23.6" text-anchor="start" fill="#000" font-family="Liberation Serif, serif" >-2</text>
<text x="482.3" y="1051.6" font-size="29.7" text-anchor="end" fill="#000" font-family="Liberation Serif, serif" >10</text>
<text x="488.8" y="1032.3" font-size="23.6" text-anchor="start" fill="#000" font-family="Liberation Serif, serif" >-1</text>
<text x="642.3" y="1051.6" font-size="29.7" text-anchor="middle" fill="#000" font-family="Liberation Serif, serif" >1</text>
<text x="808.3" y="1082.9" font-size="29.7" text-anchor="end" fill="#000" font-family="Liberation Serif, serif" >energy (GeV)</text>
</svg></body></html>
